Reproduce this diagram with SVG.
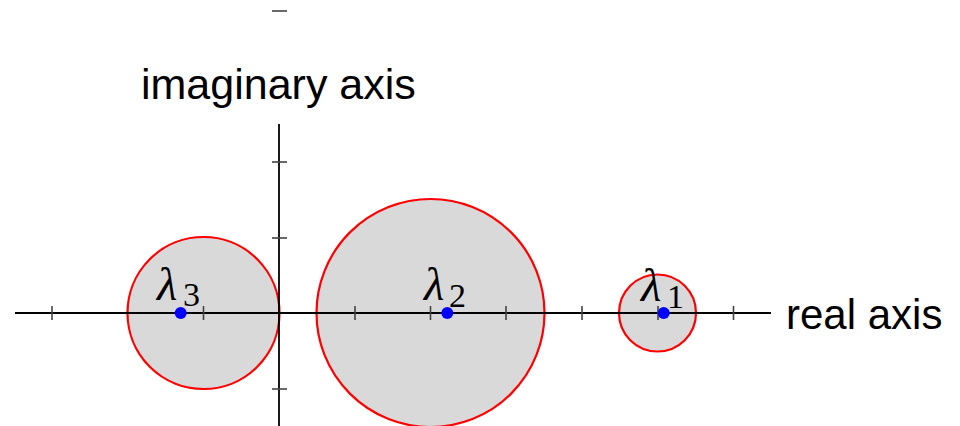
<svg xmlns="http://www.w3.org/2000/svg" width="960" height="426" viewBox="0 0 960 426">
<style>
.disc{fill:#d9d9d9;stroke:#ff0000;stroke-width:2.2}
.axis{stroke:#000;stroke-width:1.8;fill:none}
.tick{stroke:#444;stroke-width:1.6}
.eig{fill:#0000ff}
.lab{font-family:"Liberation Sans",Arial,sans-serif;font-size:43px;fill:#000}
.lam{font-family:"Liberation Serif","Times New Roman",serif;font-style:italic;font-size:47px;fill:#000}
.sub{font-family:"Liberation Serif","Times New Roman",serif;font-size:34px;fill:#000}
</style>
<g id="disc3"><circle class="disc" cx="203.5" cy="313" r="76"/></g>
<g id="disc2"><circle class="disc" cx="430.5" cy="313" r="114"/></g>
<g id="disc1"><circle class="disc" cx="657.5" cy="313" r="38.5"/></g>
<g id="axes">
<line class="axis" x1="15" y1="313" x2="771" y2="313"/>
<line class="axis" x1="279" y1="124" x2="279" y2="426"/>
</g>
<g id="ticks">
<line class="tick" x1="52" y1="306" x2="52" y2="320"/>
<line class="tick" x1="203.5" y1="306" x2="203.5" y2="320"/>
<line class="tick" x1="355" y1="306" x2="355" y2="320"/>
<line class="tick" x1="430.5" y1="306" x2="430.5" y2="320"/>
<line class="tick" x1="506" y1="306" x2="506" y2="320"/>
<line class="tick" x1="582" y1="306" x2="582" y2="320"/>
<line class="tick" x1="658" y1="306" x2="658" y2="320"/>
<line class="tick" x1="733.5" y1="306" x2="733.5" y2="320"/>
<line class="tick" x1="272" y1="162" x2="287" y2="162"/>
<line class="tick" x1="272" y1="238" x2="287" y2="238"/>
<line class="tick" x1="272" y1="389" x2="287" y2="389"/>
<line class="tick" x1="272" y1="11" x2="287" y2="11"/>
</g>
<g id="eig3"><circle class="eig" cx="180.7" cy="313" r="6"/><text class="lam" x="157" y="300">λ</text><text class="sub" x="183" y="306">3</text></g>
<g id="eig2"><circle class="eig" cx="447.3" cy="313" r="6"/><text class="lam" x="424" y="300">λ</text><text class="sub" x="449" y="307">2</text></g>
<g id="eig1"><circle class="eig" cx="663.7" cy="313" r="6"/><text class="lam" x="641" y="301">λ</text><text class="sub" x="667" y="308">1</text></g>
<text id="imag-label" class="lab" x="141" y="98.5">imaginary axis</text>
<text id="real-label" class="lab" x="786" y="329" style="font-size:42px">real axis</text>
</svg>
